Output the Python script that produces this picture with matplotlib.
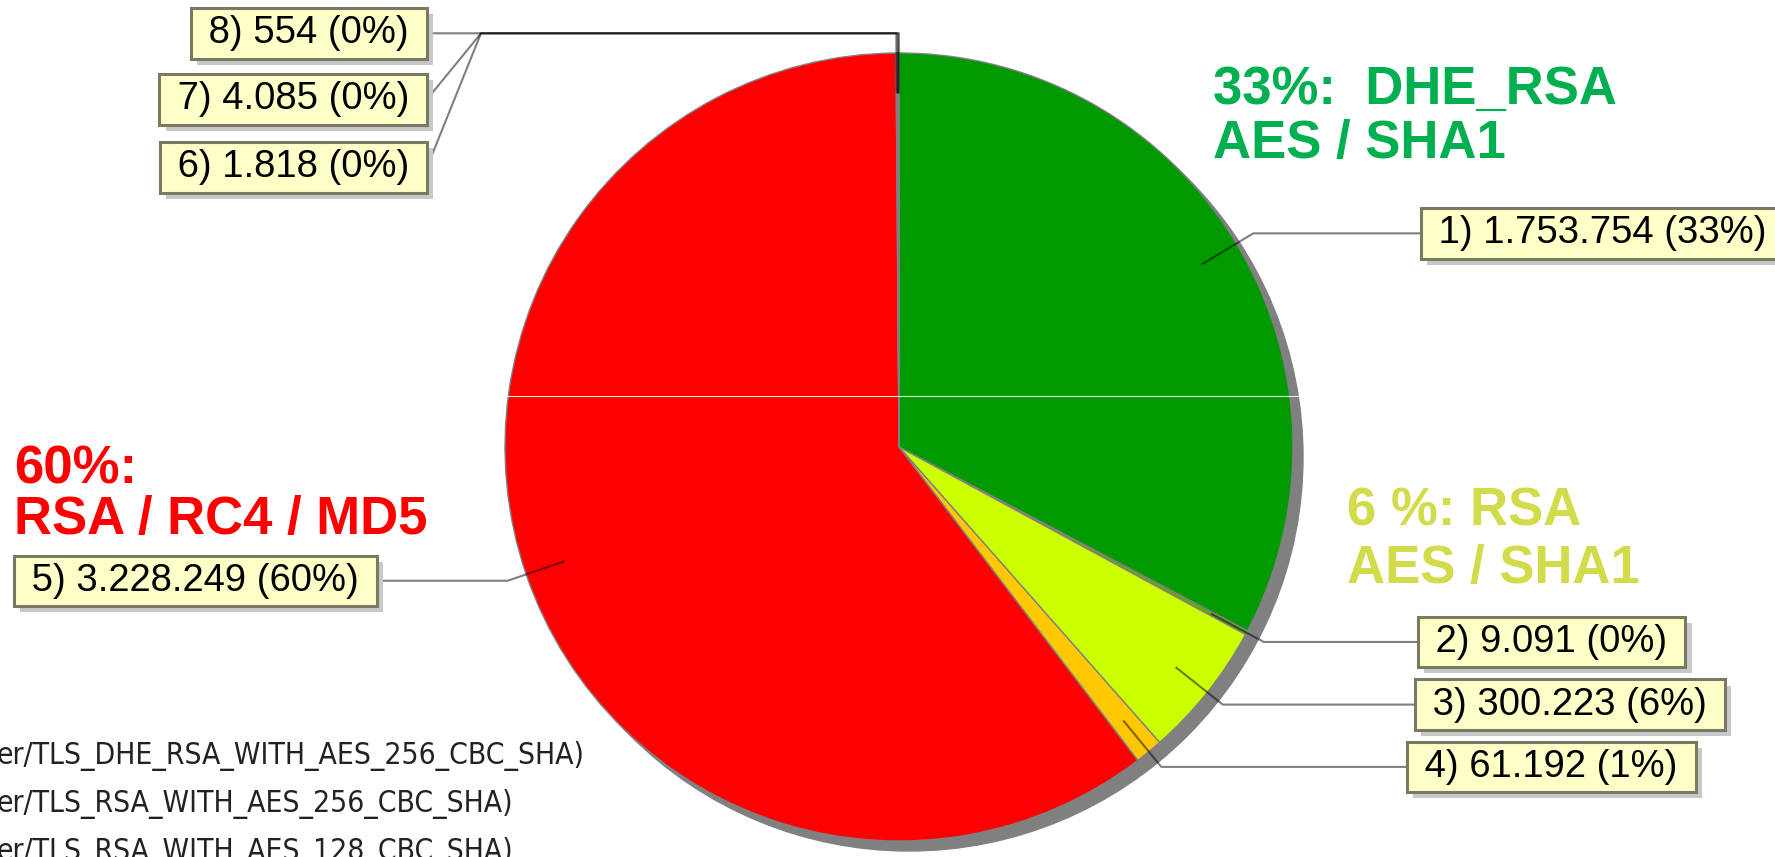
import numpy as np
import matplotlib.pyplot as plt
import matplotlib.patheffects as pe

# cipher suite counts, clockwise from 12 o'clock
values = [1753754, 9091, 300223, 61192, 3228249, 1818, 4085, 554]
colors = ['#009900', '#66AA00', '#CCFF00', '#FFC800', '#FF0000', '#A0A0A0', '#909090', '#B0B0B0']

notes = [('33%:  DHE_RSA', 'AES / SHA1'), ('6 %: RSA', 'AES / SHA1'), ('60%:', 'RSA / RC4 / MD5')]
note_colors = ['#00B050', '#D2DB4A', '#FF0000']

suites = ['er/TLS_DHE_RSA_WITH_AES_256_CBC_SHA)',
          'er/TLS_RSA_WITH_AES_256_CBC_SHA)',
          'er/TLS_RSA_WITH_AES_128_CBC_SHA)']

# layout (pixel units, y measured from the top)
W, H = 1775, 857
cx, cy, R = 899, H - 447, 394
box_x = [1421, 1418, 1415, 1407, 377, 427, 427, 427]
box_side = ['r', 'r', 'r', 'r', 'l', 'l', 'l', 'l']
box_dy = [0, 0, 0, 0, 0, -134, -66, 0]
kink_x = {'r': 1315, 'l': 481}
note_pos = [(1213, 104, 158), (1347, 526, 583), (14, 483, 534)]
suite_y = [756, 804, 852]

total = sum(values)
labels = []
for i, v in enumerate(values):
    labels.append(' %d) %s (%d%%) ' % (i + 1, format(v, ',').replace(',', '.'), round(100 * v / total)))

fig = plt.figure(figsize=(W / 100, H / 100), dpi=100)
ax = fig.add_axes([0, 0, 1, 1])

# shadow + pie
ax.add_patch(plt.Circle((cx + 10, cy - 10), R, color='#808080', zorder=0))
ax.pie(values, colors=colors, startangle=90, counterclock=False, radius=R, center=(cx, cy),
       wedgeprops=dict(edgecolor='#808080', linewidth=1), frame=False)
# faint seam across the pie
half = np.sqrt(R ** 2 - 51 ** 2)
ax.plot([cx - half, cx + half + 8], [cy + 51, cy + 51], color='#E8E8E8', lw=0.8, zorder=5)

ax.set_xlim(0, W)
ax.set_ylim(0, H)
ax.set_aspect('equal')
ax.axis('off')

# labels with links
fs = 27.5
pad = 0.19
pad_px = pad * fs * 100 / 72
ang = np.cumsum([0] + values)[:-1] + np.array(values) / 2
ang = np.radians(ang / total * 360)
for i, a in enumerate(ang):
    x0, y0 = cx + 0.9 * R * np.sin(a), cy + 0.9 * R * np.cos(a)
    x1, y1 = cx + 1.05 * R * np.sin(a), cy + 1.05 * R * np.cos(a)
    side = box_side[i]
    ly = y1 + box_dy[i]
    bx = box_x[i]
    ax.plot([x0, x1, kink_x[side], bx], [y0, y1, y1, ly], color='k', alpha=0.5, lw=1.5, zorder=6)
    if side == 'r':
        tx, ha = bx + pad_px, 'left'
    else:
        tx, ha = bx - pad_px, 'right'
    t = ax.text(tx, ly, labels[i], ha=ha, va='center', fontsize=fs, color='black',
                family='Liberation Sans', zorder=8,
                bbox=dict(boxstyle='square,pad=%g' % pad, fc='#FFFFC8', ec='#7A7A64', lw=2.2))
    t.get_bbox_patch().set_path_effects(
        [pe.withSimplePatchShadow(offset=(4.5, -4.5), shadow_rgbFace='#C8C8C8', alpha=1)])

# annotations
for (l1, l2), c, (x, b1, b2) in zip(notes, note_colors, note_pos):
    ax.text(x, H - b1, l1, color=c, fontsize=38, fontweight='bold', family='Liberation Sans', va='baseline')
    ax.text(x, H - b2, l2, color=c, fontsize=38, fontweight='bold', family='Liberation Sans', va='baseline')

for s, y in zip(suites, suite_y):
    ax.text(-3, H - y, s, ha='left', va='center', fontsize=21.5, color='#222222', family='DejaVu Sans',
            fontstretch='condensed')

fig.savefig('out.png', dpi=100)
